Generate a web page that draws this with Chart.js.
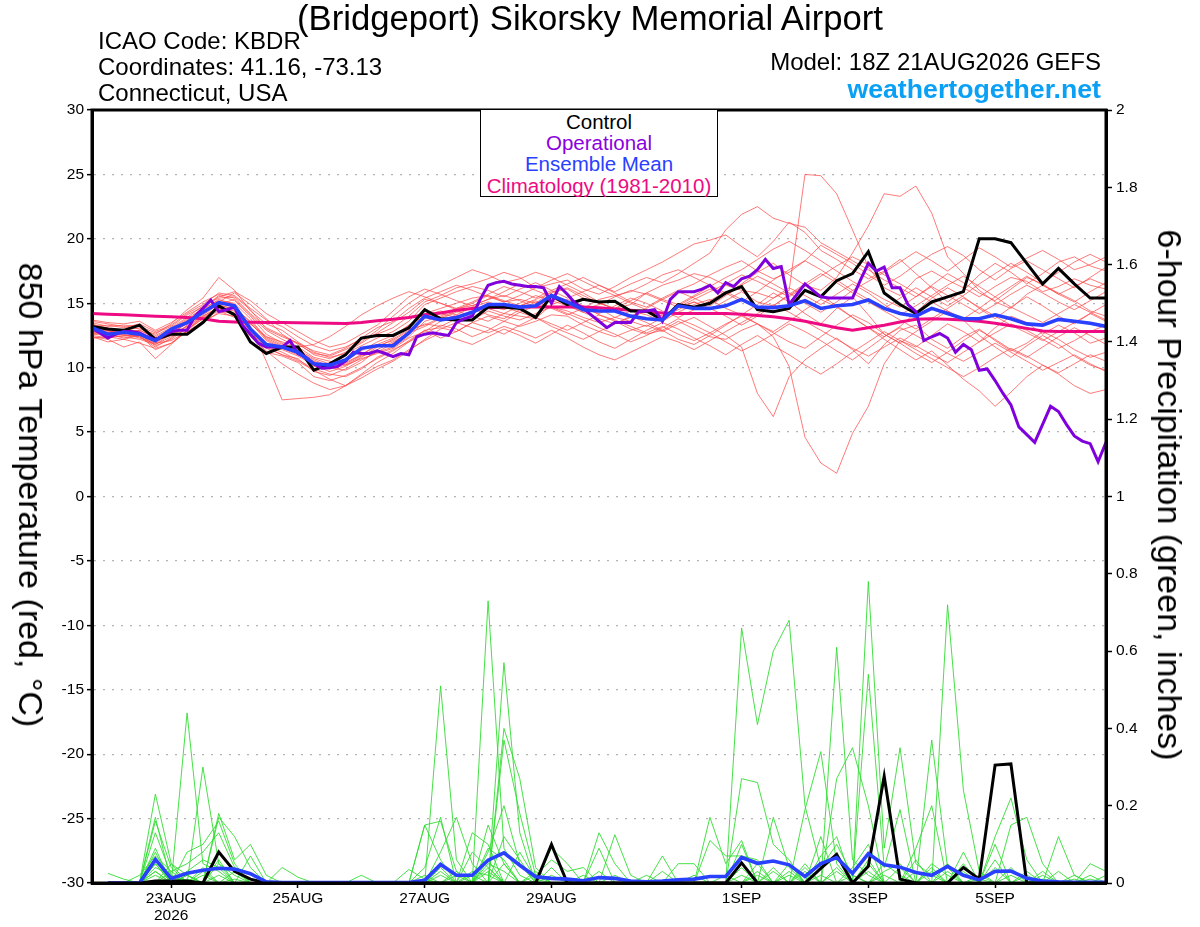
<!DOCTYPE html>
<html>
<head>
<meta charset="utf-8">
<script src="https://cdn.jsdelivr.net/npm/chart.js@4.4.1/dist/chart.umd.min.js"></script>
<style>
html,body{margin:0;padding:0;background:#fff;}
#wrap{position:relative;width:1200px;height:927px;overflow:hidden;font-family:"Liberation Sans",Arial,Helvetica,sans-serif;background:#fff;}
#cw{position:absolute;left:0;top:0;width:1200px;height:927px;}
.t{position:absolute;white-space:nowrap;line-height:1;color:#000;}
#legend{position:absolute;left:480px;top:109px;width:236px;height:86px;border:1.6px solid #000;background:#fff;}
#legend div{position:absolute;left:0;width:100%;text-align:center;font-size:20.5px;line-height:1;white-space:nowrap;}
.rot{position:absolute;white-space:nowrap;line-height:1;transform:translate(-50%,-50%) rotate(90deg);}
</style>
</head>
<body>
<div id="wrap">
  <div id="cw"><canvas id="c"></canvas></div>
  <div class="t" style="left:0;width:1180px;text-align:center;top:1px;font-size:34.7px;">(Bridgeport) Sikorsky Memorial Airport</div>
  <div class="t" style="left:98px;top:29px;font-size:24px;">ICAO Code: KBDR</div>
  <div class="t" style="left:98px;top:55px;font-size:24px;">Coordinates: 41.16, -73.13</div>
  <div class="t" style="left:98px;top:81px;font-size:24px;">Connecticut, USA</div>
  <div class="t" style="right:99px;top:50px;font-size:24px;">Model: 18Z 21AUG2026 GEFS</div>
  <div class="t" style="right:99px;top:76px;font-size:26.7px;font-weight:bold;color:#0aa0f5;">weathertogether.net</div>
  <div id="legend">
    <div style="top:2px;color:#000;">Control</div>
    <div style="top:23px;color:#8a00e0;">Operational</div>
    <div style="top:44px;color:#2a40ff;">Ensemble Mean</div>
    <div style="top:66px;color:#ee0a82;">Climatology (1981-2010)</div>
  </div>
  <div class="rot" style="left:31px;top:495px;font-size:34px;">850 hPa Temperature (red, °C)</div>
  <div class="rot" style="left:1170px;top:495px;font-size:34px;">6-hour Precipitation (green, inches)</div>
</div>
<script>
// ---------- time axis (forecast hours from 18Z 21AUG2026) ----------
const fcstHours = [];
for (let h = 0; h <= 384; h += 6) fcstHours.push(h);
const opHours = [];
for (let h = 0; h <= 384; h += 3) opHours.push(h);
const tickHours  = [30, 78, 126, 174, 246, 294, 342];
const tickLabels = ['23AUG', '25AUG', '27AUG', '29AUG', '1SEP', '3SEP', '5SEP'];
const yearLabel  = '2026';
const tempTicks = { min: -30, max: 30, step: 5 };
const precipTicks = { min: 0, max: 2, step: 0.2 };

// ---------- 850 hPa temperature (°C) ----------
const controlTemp = [13.2,13.0,12.9,13.3,12.2,12.6,12.6,13.5,14.8,14.1, 12.0,11.1,11.6,11.6,9.8,10.3,11.0,12.3,12.5,12.5, 13.1,14.5,13.8,13.7,13.7,14.7,14.7,14.6,13.9,15.6, 14.9,15.3,15.1,15.15,14.4,14.4,13.7,14.9,14.7,15.0, 15.8,16.3,14.5,14.35,14.6,16.0,15.5,16.75,17.3,19.0, 15.8,14.9,14.2,15.1,15.5,15.9,20.0,20.0,19.7,18.1, 16.5,17.7,16.5,15.4,15.4];
const meanTemp = [13.1,12.6,12.75,12.6,12.1,13.0,13.5,14.3,15.05,14.8, 13.0,11.8,11.6,11.2,10.3,10.2,10.6,11.5,11.7,11.7, 12.7,14.0,13.7,13.9,14.3,14.9,14.9,14.7,14.8,15.6, 15.1,14.5,14.4,14.4,14.0,13.8,13.7,14.8,14.6,14.6, 14.8,15.3,14.7,14.66,14.8,15.2,14.6,14.8,14.9,15.25, 14.6,14.2,14.0,14.6,14.2,13.8,13.8,14.1,13.8,13.4, 13.3,13.75,13.6,13.45,13.2];
const climoTemp = [14.2,14.15,14.1,14.05,14.0,13.95,13.9,13.8,13.6,13.55, 13.52,13.5,13.5,13.48,13.47,13.45,13.42,13.5,13.65,13.75, 13.9,14.1,14.25,14.45,14.6,14.65,14.68,14.7,14.7,14.7, 14.7,14.7,14.65,14.55,14.45,14.35,14.25,14.2,14.2,14.2, 14.2,14.15,14.05,13.95,13.8,13.6,13.35,13.1,12.9,13.1, 13.3,13.55,13.75,13.8,13.75,13.7,13.6,13.45,13.25,13.05, 12.85,12.8,12.8,12.8,12.8];
// operational run, 3-hourly
const operationalTemp = [
 13.05,12.7, 12.3,12.6, 12.8,12.8, 12.7,12.4, 12.15,12.5, 12.8,12.9, 12.9,14.0, 14.6,15.25, 14.35,14.5, 14.7,13.3,
 12.6,11.9, 11.6,11.6, 11.6,12.1, 11.1,10.8, 10.3,9.95, 10.0,10.1, 10.5,11.2, 11.1,11.1, 11.3,11.1, 10.85,11.1,
 11.0,12.4, 12.6,12.7, 12.6,12.5, 13.5,13.8, 14.0,15.3, 16.4,16.6, 16.7,16.5, 16.4,16.3, 16.3,16.2, 15.0,16.3,
 15.7,15.0, 14.6,14.1, 13.6,13.1, 13.5,13.5, 13.5,14.35, 14.4,14.5, 13.6,15.3, 15.9,15.9, 15.9,16.1, 16.4,15.8,
 16.6,16.3, 16.9,17.1, 17.6,18.4, 17.7,17.85, 14.9,15.7, 16.5,16.0, 15.5,15.4, 15.4,15.4, 15.4,16.8, 18.1,17.5,
 17.8,16.2, 16.2,14.9, 14.35,12.1, 12.4,12.65, 12.3,11.2, 11.8,11.4, 9.8,9.9, 9.0,8.0, 7.1,5.4, 4.8,4.2,
 5.6,7.0, 6.6,5.6, 4.7,4.3, 4.1,2.7, 4.2];

const tempMember01 = [13.4,13.0,12.8,12.9,12.3,12.8,13.6,14.6,15.6,15.2, 14.0,12.6,11.9,11.3,10.6,10.1,10.4,11.0,11.8,12.3, 13.3,14.2,14.6,15.0,15.4,15.6,15.1,15.3,15.0,15.9, 16.1,15.4,15.0,14.6,14.9,15.8,16.4,16.8,17.3,17.0, 16.4,16.0,15.8,15.4,16.0,25.0,24.9,23.5,20.7,17.8, 16.2,15.6,16.9,17.5,16.8,16.2,15.5,16.3,17.0,16.7, 15.9,16.3,16.9,16.4,16.1];
const tempMember02 = [13.0,12.7,13.0,12.8,12.0,12.6,13.2,14.1,14.9,15.3, 14.1,12.9,12.2,11.6,10.8,10.5,10.2,10.9,11.2,11.6, 12.4,13.6,14.0,14.6,14.8,15.3,15.6,15.2,14.7,15.4, 14.9,14.3,14.6,13.9,13.6,13.2,13.9,14.7,15.1,14.5, 15.2,15.9,15.1,14.8,15.6,16.4,16.0,17.0,18.9,21.0, 23.5,23.3,24.1,22.0,18.6,17.3,16.0,15.1,14.6,15.7, 16.4,15.8,15.2,14.4,14.0];
const tempMember03 = [12.8,12.5,12.4,12.2,11.8,12.4,13.0,13.8,14.6,14.4, 12.8,11.5,11.0,10.7,9.7,9.4,9.9,10.6,11.2,11.9, 12.8,13.4,13.2,13.8,14.3,14.6,14.2,14.0,13.8,14.9, 15.3,14.8,14.1,13.6,13.0,12.6,12.9,13.6,13.0,12.4, 12.2,12.9,13.4,12.4,10.1,4.6,2.6,1.8,4.9,7.0, 10.3,12.1,11.6,12.5,13.4,12.8,12.0,13.1,14.0,13.5, 12.6,13.3,12.7,11.9,12.3];
const tempMember04 = [12.6,12.9,12.5,12.5,11.4,11.9,12.8,13.6,14.2,14.0, 12.5,11.2,10.9,10.4,9.3,9.0,9.4,10.0,10.7,11.3, 12.1,12.9,13.1,12.8,13.5,14.0,13.6,13.2,13.6,14.1, 14.0,13.3,12.8,12.4,12.9,13.3,12.8,13.4,13.9,13.2, 12.5,11.6,8.0,6.2,9.3,10.6,11.5,12.3,11.4,10.3, 11.8,12.9,13.3,12.2,11.5,12.4,13.0,12.1,11.3,11.9, 12.8,12.2,11.4,10.8,11.2];
const tempMember05 = [13.2,13.3,13.1,13.4,12.8,13.3,14.2,14.9,15.8,15.6, 14.6,13.7,13.2,12.4,11.7,11.3,11.6,12.2,12.6,13.1, 14.0,15.1,15.6,16.2,16.5,16.9,17.4,17.0,16.2,16.5, 16.8,16.1,15.7,16.3,17.0,17.6,18.2,18.9,19.6,19.9, 20.3,19.4,18.6,19.8,21.3,20.5,19.1,18.4,17.6,16.9, 17.5,18.4,17.3,16.2,15.1,16.0,17.2,18.1,17.4,16.5, 17.3,18.2,18.6,17.9,17.5];
const tempMember06 = [12.9,12.4,12.6,12.3,11.9,12.7,13.4,14.5,15.3,14.9, 13.2,10.5,7.5,7.6,7.7,7.9,8.6,9.5,10.4,11.1, 12.0,12.6,13.3,13.0,12.4,12.9,13.6,14.3,13.9,13.2, 12.7,12.2,12.8,13.4,14.0,13.5,12.9,12.2,11.8,12.5, 13.3,14.1,14.9,15.8,15.1,14.2,13.4,14.6,15.5,14.1, 12.6,11.9,12.8,13.6,14.4,13.7,12.5,11.6,10.8,11.7, 12.5,11.8,10.9,10.2,9.8];
const tempMember07 = [13.6,13.4,13.2,13.0,12.6,13.4,14.5,15.4,17.0,16.0, 14.4,13.4,12.9,12.0,11.2,10.8,11.1,11.7,12.3,12.8, 13.6,14.9,15.4,15.9,16.3,16.0,15.5,16.1,16.6,16.0, 15.4,15.9,16.4,15.8,15.1,14.7,15.4,16.0,16.5,17.2, 17.8,18.3,17.5,16.9,17.4,18.3,19.5,18.8,18.1,17.2, 16.4,17.1,18.0,18.8,19.4,18.7,17.6,16.8,17.7,18.3, 17.6,16.9,16.2,17.0,17.8];
const tempMember08 = [12.4,12.2,11.6,12.0,10.7,11.8,12.9,14.0,14.7,14.2, 12.9,11.9,11.4,10.9,10.2,9.7,10.1,10.8,11.6,12.2, 13.0,13.3,13.9,14.4,14.0,13.6,14.2,14.8,15.2,14.6, 14.1,14.6,15.3,15.6,15.0,14.5,14.0,14.8,15.5,16.1, 15.7,16.5,17.4,18.1,17.2,16.4,15.6,14.8,13.9,13.1, 12.4,13.2,14.3,15.4,16.2,15.5,14.6,13.8,14.7,15.5, 14.8,14.0,13.4,14.2,14.9];
const tempMember09 = [13.1,12.8,12.9,13.1,12.5,13.1,13.9,14.8,15.4,15.5, 14.5,13.0,12.4,11.9,11.0,10.7,11.2,11.9,12.7,13.5, 14.3,15.3,15.0,14.6,15.1,15.7,16.3,15.9,15.4,16.0, 16.5,17.0,16.4,15.9,16.5,17.0,16.6,17.3,18.1,18.9, 20.7,21.9,22.5,21.6,21.2,20.9,19.7,19.0,18.3,17.6, 16.8,16.2,15.5,16.4,17.3,16.6,15.8,15.2,16.1,17.0, 16.5,15.7,16.3,16.9,16.4];
const tempMember10 = [12.7,12.6,12.3,12.6,11.7,12.2,13.1,13.9,14.5,14.6, 13.6,12.4,11.8,11.1,10.1,9.9,10.2,10.7,11.1,11.5, 12.3,12.8,13.6,14.1,13.7,14.4,14.0,13.7,14.2,14.7, 14.4,13.9,13.5,13.9,14.4,14.1,13.6,14.3,14.9,15.3, 14.6,14.1,13.4,12.8,13.6,14.5,15.3,14.7,13.9,13.1, 12.2,11.4,10.6,11.3,10.2,9.1,8.2,7.0,8.1,9.3, 10.2,9.5,8.6,8.0,8.3];
const tempMember11 = [13.3,13.1,12.7,12.6,12.2,12.9,13.7,14.4,15.1,15.8, 14.9,13.8,12.6,11.8,11.1,10.9,11.4,12.0,12.9,14.0, 15.0,15.8,16.4,17.0,17.6,17.2,16.6,16.9,17.4,17.0, 16.4,15.8,15.1,14.5,14.0,14.6,15.3,15.9,15.4,14.8, 15.6,16.4,17.1,16.5,15.8,15.0,14.3,15.1,16.0,16.7, 17.4,18.2,19.0,18.3,17.5,18.4,19.3,18.6,17.8,18.5, 19.1,18.4,17.6,18.0,18.6];
const tempMember12 = [12.5,12.3,12.5,12.4,11.6,12.3,13.3,14.3,14.9,14.5, 13.0,11.7,11.2,10.6,9.9,9.5,9.3,9.9,10.8,11.4, 12.0,12.9,12.3,12.8,13.5,13.1,12.6,13.3,13.9,13.4, 12.9,13.5,14.1,13.7,13.2,12.7,13.2,12.6,12.1,12.7, 13.4,14.0,13.4,12.7,12.0,11.5,12.4,13.3,14.1,13.5, 12.6,11.9,11.1,10.4,11.2,12.1,12.9,12.2,11.4,10.8, 11.6,12.4,13.1,12.5,11.8];
const tempMember13 = [13.5,13.2,13.3,13.2,12.7,13.2,14.1,14.7,15.5,15.9, 15.2,14.2,13.5,12.8,12.1,11.6,11.9,12.6,13.3,14.4, 15.5,16.1,15.7,15.2,14.8,15.3,15.9,16.5,16.0,15.5, 15.0,14.5,14.9,15.5,16.0,15.7,15.2,14.7,15.3,15.9, 16.5,17.2,16.7,16.1,15.5,16.3,17.1,17.9,18.6,18.0, 17.2,16.5,15.8,15.1,14.4,13.8,14.6,15.5,16.3,17.1, 16.4,15.7,15.1,15.9,16.6];
const tempMember14 = [12.6,12.5,12.8,12.7,12.1,12.5,13.2,14.0,14.6,14.1, 12.7,11.6,11.0,10.5,9.8,9.1,8.6,9.2,9.9,10.5, 11.3,12.2,13.0,13.5,13.1,12.7,13.2,12.8,12.3,12.9, 12.3,11.6,11.0,10.6,11.2,11.8,12.4,12.0,11.4,12.1, 12.8,13.5,14.2,14.9,14.3,13.6,12.9,12.2,11.5,10.9, 11.6,12.3,11.7,11.0,10.4,11.2,12.0,12.7,13.4,12.9, 12.2,11.5,12.1,12.8,13.3];
const tempMember15 = [13.0,12.9,12.6,12.9,12.4,13.0,13.8,14.6,15.2,15.0, 13.8,12.2,11.6,11.4,10.7,10.3,10.5,11.3,12.0,12.5, 13.3,14.0,14.4,14.1,14.7,15.1,14.7,14.3,14.8,15.5, 15.1,14.6,14.2,14.8,15.4,15.0,14.4,13.9,14.5,15.2, 15.9,15.3,14.6,15.4,16.2,15.6,14.9,15.7,16.5,15.8, 14.9,14.1,14.8,15.6,16.4,17.1,16.3,15.5,14.7,14.1, 13.5,14.2,14.9,14.3,13.7];
const tempMember16 = [12.3,12.4,12.2,12.5,11.9,12.1,12.8,13.5,14.3,14.3, 13.4,12.3,11.7,11.2,10.5,10.0,9.8,10.4,11.4,12.0, 12.7,13.2,13.8,14.3,14.6,14.1,13.8,14.5,15.1,14.7, 14.2,13.7,13.1,12.6,12.0,12.5,13.1,13.8,13.3,12.7, 12.0,11.3,11.9,12.6,13.4,12.8,12.1,11.3,10.6,11.5, 12.4,13.1,12.5,11.8,11.1,10.5,11.2,11.9,11.2,10.5, 9.8,10.4,11.0,10.3,9.7];
const tempMember17 = [13.7,13.5,13.4,13.6,12.9,13.5,14.3,15.1,15.7,15.4, 14.2,13.1,12.5,11.9,11.3,11.0,11.5,12.3,13.1,13.6, 14.6,15.4,15.9,16.4,16.0,15.5,15.1,15.6,16.2,16.8, 17.3,16.7,16.1,15.6,15.9,16.5,17.2,17.6,17.0,16.4, 15.8,15.1,15.9,16.8,17.6,18.3,17.6,16.8,16.0,15.3, 14.6,15.4,16.2,15.5,14.8,15.6,16.5,17.3,18.1,17.4, 16.6,17.4,18.2,18.8,18.2];
const tempMember18 = [12.9,12.7,12.9,12.6,12.3,12.7,13.6,14.4,14.8,14.6, 13.4,12.4,12.0,11.6,11.8,12.4,13.2,14.1,14.8,15.4, 15.9,15.5,15.0,14.5,15.0,15.6,15.2,14.8,15.3,15.8, 16.2,15.6,15.0,14.6,15.2,15.8,15.3,14.9,15.6,16.3, 17.0,17.6,18.4,19.2,19.8,19.1,18.3,17.5,16.7,16.0, 15.3,14.7,15.5,16.3,15.6,14.9,14.2,14.9,15.7,16.4, 15.8,15.1,14.5,15.2,15.9];
const tempMember19 = [12.4,12.0,12.2,11.9,11.5,11.9,12.9,13.8,14.4,13.9, 12.4,11.3,10.3,9.5,8.8,8.3,8.6,9.4,10.1,10.6, 11.4,12.1,12.7,12.2,11.8,12.4,13.0,12.5,11.9,12.6, 13.3,12.7,12.0,11.5,12.2,12.9,13.5,13.0,12.3,11.7, 11.0,11.8,12.5,11.7,11.0,10.2,9.5,10.3,11.2,12.0, 12.8,12.1,11.4,10.7,10.0,9.3,10.0,10.8,11.5,10.9, 10.2,9.6,10.3,11.0,10.5];
const tempMember20 = [13.2,12.9,12.7,12.4,11.8,12.6,13.5,14.2,15.0,14.7, 13.5,12.1,11.5,11.0,10.4,10.0,10.3,11.0,11.7,12.1, 12.9,13.8,14.2,13.9,14.4,14.8,14.5,15.0,15.6,15.2, 14.8,14.3,13.8,13.4,13.9,14.4,14.0,14.5,15.1,14.6, 14.0,13.3,14.0,14.8,15.7,16.5,17.3,16.6,15.8,15.1, 14.4,13.7,13.0,13.8,14.6,15.4,14.7,14.0,13.3,12.7, 12.1,12.8,13.5,14.2,13.6];
const tempMembers = [tempMember01,tempMember02,tempMember03,tempMember04,tempMember05,tempMember06,tempMember07,tempMember08,tempMember09,tempMember10,tempMember11,tempMember12,tempMember13,tempMember14,tempMember15,tempMember16,tempMember17,tempMember18,tempMember19,tempMember20];

// ---------- 6-hour precipitation (inches) ----------
const controlPrecip = [null,0,0,0,0.005,0.005,0.005,0,0.08,0.03, 0.01,0,0,0,0,0,0,0,0,0, 0,0,0,0,0,0,0,0,0,0.10, 0,0,0,0,0,0,0,0,0,0, 0,0.052,0,0,0,0,0.038,0.074,0,0.043, 0.276,0.01,0,0,0,0.04,0.01,0.305,0.308,0, 0,0,0,0,0];
const meanPrecip = [null,0,0,0,0.061,0.012,0.025,0.033,0.038,0.036, 0.024,0.003,0.001,0.001,0.001,0.001,0.001,0.001,0.001,0.001, 0.001,0.007,0.048,0.02,0.02,0.059,0.078,0.046,0.016,0.012, 0.01,0.006,0.014,0.012,0.005,0.003,0.005,0.008,0.01,0.017, 0.017,0.066,0.051,0.057,0.047,0.017,0.05,0.066,0.025,0.076, 0.047,0.041,0.027,0.02,0.043,0.02,0.008,0.03,0.031,0.012, 0.005,0.003,0.002,0.002,0.002];
const precipMember01 = [null,0,0,0,0.23,0.05,0.02,0,0,0, 0,0,0,0,0,0,0,0,0,0, 0,0,0.51,0.06,0,0.08,0.20,0.05,0,0, 0,0,0,0,0,0,0,0,0,0, 0,0.66,0.41,0.60,0.68,0.20,0.04,0.10,0.02,0, 0,0,0,0.05,0.02,0,0,0,0,0, 0,0,0,0,0];
const precipMember02 = [null,0,0,0,0.17,0,0.44,0.05,0.03,0, 0,0,0,0,0,0,0,0,0,0, 0,0,0,0,0,0.73,0.09,0.02,0,0, 0,0,0,0,0,0,0,0,0,0, 0,0,0,0,0,0,0,0,0,0.78, 0.09,0.35,0.05,0.02,0,0,0,0,0,0, 0,0,0,0,0];
const precipMember03 = [null,0,0,0,0.16,0.04,0,0.30,0.05,0.02, 0,0,0,0,0,0,0,0,0,0, 0,0,0,0,0,0,0.57,0.13,0,0, 0,0,0,0,0,0,0,0,0,0, 0,0,0,0,0,0,0,0.61,0.06,0.02, 0,0,0,0,0.72,0.24,0.03,0,0,0, 0,0,0,0,0];
const precipMember04 = [null,0,0,0,0.09,0,0,0,0.17,0.12, 0.04,0,0,0,0,0,0,0,0,0, 0,0.15,0.16,0.03,0,0,0.40,0.27,0.04,0, 0,0,0,0,0,0,0,0,0,0, 0,0,0,0,0,0,0,0,0,0.54, 0.04,0.19,0,0.37,0.04,0,0,0,0,0, 0,0,0,0,0];
const precipMember05 = [null,0,0,0,0.13,0.02,0,0,0.18,0.06, 0.10,0.02,0,0,0,0,0,0,0,0, 0,0,0.08,0.17,0.05,0,0.37,0.18,0.02,0, 0,0,0,0,0,0,0,0,0,0, 0,0.27,0.26,0.10,0.06,0,0,0.27,0.35,0.20, 0,0,0,0,0,0,0,0,0,0, 0,0,0,0,0];
const precipMember06 = [null,0,0,0,0.08,0,0.08,0.10,0.16,0.05, 0,0,0,0,0,0,0,0,0,0, 0,0.15,0.06,0,0,0.15,0.05,0,0,0, 0,0,0,0,0,0,0,0,0,0.17, 0.05,0.11,0,0,0,0.19,0.34,0.05,0,0, 0,0,0,0,0,0,0,0.12,0.22,0.06, 0,0,0,0,0];
const precipMember07 = [null,0,0,0.02,0.07,0.03,0.05,0.08,0.13,0.04, 0,0,0.04,0.015,0,0,0,0,0,0, 0,0,0,0,0.13,0.10,0,0,0,0, 0,0,0.13,0.05,0,0,0.07,0,0,0, 0,0,0,0.17,0.04,0,0,0,0,0, 0,0,0,0,0,0.08,0,0,0.15,0.17, 0.05,0,0,0,0];
const precipMember08 = [null,0.025,0.01,0,0.05,0,0.03,0.06,0.04,0, 0,0,0,0,0,0,0,0,0,0, 0,0.04,0.17,0,0,0.06,0,0,0,0, 0,0,0,0.125,0.02,0,0,0,0,0.11, 0.07,0.07,0.06,0,0,0,0,0,0,0, 0,0,0.09,0.20,0,0,0,0,0,0, 0,0.12,0.02,0,0];
const precipMember09 = [null,0,0,0,0.04,0.02,0,0,0,0.03, 0,0,0,0,0,0,0,0,0,0, 0.035,0.01,0,0,0.08,0.04,0,0,0,0.09, 0.05,0,0.09,0,0,0,0,0.05,0.05,0, 0,0.10,0,0,0,0,0.12,0,0,0.03, 0,0,0,0,0,0,0,0.10,0,0, 0,0,0,0.05,0.03];
const precipMember10 = [null,0,0,0,0.03,0,0,0.02,0,0, 0.07,0,0,0,0,0,0,0.02,0,0, 0,0,0,0.03,0,0,0,0,0.02,0.06, 0.03,0.04,0,0,0,0.02,0,0,0,0, 0,0,0,0,0,0.04,0,0,0,0, 0.03,0.05,0,0,0,0,0.02,0,0,0.03, 0,0,0,0,0];
const precipMember11 = [null,0,0,0,0,0.03,0,0,0.02,0, 0,0,0,0,0,0,0,0,0,0, 0,0,0.04,0,0,0,0.12,0.06,0,0, 0,0,0,0,0,0,0,0,0,0, 0,0,0.03,0,0.02,0,0,0,0.04,0.10, 0,0,0.03,0,0,0.05,0,0,0,0, 0.02,0,0,0,0];
const precipMember12 = [null,0,0,0,0.02,0,0.01,0,0,0, 0,0,0,0,0,0,0,0,0,0, 0,0,0.03,0,0,0.05,0.03,0,0,0.04, 0,0,0,0,0,0,0,0,0,0, 0,0.05,0,0.03,0,0,0,0.04,0,0.06, 0,0,0,0,0.03,0,0,0,0.04,0, 0,0,0.01,0,0];
const precipMember13 = [null,0,0,0,0,0.05,0,0,0,0.01, 0,0,0,0,0,0,0,0,0,0, 0,0,0,0,0,0.09,0.06,0,0,0, 0,0.02,0,0,0,0,0,0,0,0, 0,0,0.05,0,0,0.03,0,0,0,0, 0.05,0.02,0,0,0,0,0,0.06,0,0, 0,0.03,0,0,0];
const precipMember14 = [null,0,0,0,0.06,0,0,0,0.05,0, 0,0,0,0,0,0,0,0,0,0, 0,0,0,0.02,0,0,0,0.08,0.01,0, 0,0,0,0,0,0,0.03,0,0,0, 0,0.02,0,0,0,0,0.07,0.12,0,0, 0,0,0,0.04,0,0,0,0,0,0.02, 0,0,0,0.01,0];
const precipMember15 = [null,0,0,0,0,0,0.02,0,0,0, 0,0,0,0,0,0,0,0,0,0, 0,0,0,0,0.03,0.02,0,0,0,0, 0,0,0.03,0,0,0,0,0,0,0, 0.02,0,0,0,0.05,0,0,0,0.02,0, 0,0,0.06,0,0,0,0.01,0,0,0, 0.03,0,0,0,0];
const precipMember16 = [null,0,0,0,0.03,0,0,0.04,0,0, 0,0,0,0,0,0,0,0,0,0, 0,0,0,0,0,0.03,0,0,0.03,0, 0,0,0,0,0,0,0,0,0,0, 0,0,0,0,0.03,0,0,0,0,0.05, 0,0,0,0,0,0,0,0.04,0,0, 0,0,0,0,0.02];
const precipMember17 = [null,0,0,0,0,0.01,0,0,0,0, 0,0,0,0,0,0,0,0,0,0, 0,0,0.02,0,0,0,0.05,0,0,0, 0,0,0,0,0,0,0,0,0,0, 0,0.04,0,0,0,0,0,0.03,0,0, 0,0,0,0.03,0,0,0,0,0.02,0, 0,0,0,0,0];
const precipMember18 = [null,0,0,0,0.05,0,0,0,0.06,0, 0,0,0,0,0,0,0,0,0,0, 0,0,0,0,0.02,0,0,0,0,0, 0,0,0,0.02,0,0,0,0,0,0, 0,0,0.02,0,0,0,0.02,0,0,0, 0,0.04,0,0,0,0,0,0,0,0, 0,0,0.02,0,0];
const precipMember19 = [null,0,0,0,0,0,0.02,0,0,0, 0,0,0,0,0,0,0,0,0,0, 0,0.02,0,0,0,0,0,0,0,0.02, 0,0,0,0,0,0,0,0,0,0, 0,0,0,0.04,0,0,0,0,0,0, 0.02,0,0,0,0,0.03,0,0,0,0, 0.01,0,0,0,0];
const precipMember20 = [null,0,0,0,0,0,0,0.03,0,0, 0,0,0,0,0,0,0,0,0,0, 0,0,0,0,0,0.04,0,0,0,0, 0,0,0,0,0,0,0,0,0.02,0, 0,0,0,0,0,0.05,0,0,0,0, 0,0,0,0,0.05,0,0,0,0,0, 0,0,0,0.02,0];
const precipMembers = [precipMember01,precipMember02,precipMember03,precipMember04,precipMember05,precipMember06,precipMember07,precipMember08,precipMember09,precipMember10,precipMember11,precipMember12,precipMember13,precipMember14,precipMember15,precipMember16,precipMember17,precipMember18,precipMember19,precipMember20];

// ---------- chart ----------
const FONT = '"Liberation Sans", Arial, Helvetica, sans-serif';
Chart.defaults.font.family = FONT;
Chart.defaults.color = '#000';

function pts(hours, vals) { return vals.map((v, i) => ({ x: hours[i], y: v })); }

const datasets = [];
datasets.push({ data: pts(fcstHours, meanTemp), borderColor: '#2a40ff', borderWidth: 3.6, yAxisID: 'y', order: 0 });
datasets.push({ data: pts(fcstHours, meanPrecip), borderColor: '#2a40ff', borderWidth: 3.6, yAxisID: 'y1', order: 1 });
datasets.push({ data: pts(opHours, operationalTemp), borderColor: '#8000dd', borderWidth: 3, yAxisID: 'y', order: 2 });
datasets.push({ data: pts(fcstHours, controlTemp), borderColor: '#000000', borderWidth: 3, yAxisID: 'y', order: 3 });
datasets.push({ data: pts(fcstHours, controlPrecip), borderColor: '#000000', borderWidth: 3, yAxisID: 'y1', order: 4 });
datasets.push({ data: pts(fcstHours, climoTemp), borderColor: '#ee0a82', borderWidth: 3, yAxisID: 'y', order: 5 });
precipMembers.forEach(m => datasets.push({ data: pts(fcstHours, m), borderColor: 'rgb(50,220,50)', borderWidth: 0.9, yAxisID: 'y1', order: 6 }));
tempMembers.forEach(m => datasets.push({ data: pts(fcstHours, m), borderColor: 'rgba(255,70,70,0.8)', borderWidth: 0.9, yAxisID: 'y', order: 7 }));

const framePlugin = {
  id: 'frame',
  afterDatasetsDraw(chart) {
    const { ctx, chartArea: a } = chart;
    ctx.save();
    ctx.strokeStyle = '#000';
    ctx.lineWidth = 3;
    ctx.strokeRect(a.left, a.top, a.right - a.left, a.bottom - a.top);
    ctx.restore();
  }
};

new Chart(document.getElementById('c'), {
  type: 'line',
  data: { datasets },
  plugins: [framePlugin],
  options: {
    responsive: true,
    maintainAspectRatio: false,
    animation: false,
    events: [],
    layout: { padding: { top: 110, left: 0, right: 0, bottom: 0 } },
    elements: { point: { radius: 0 }, line: { tension: 0, fill: false, borderJoinStyle: 'miter' } },
    plugins: { legend: { display: false }, tooltip: { enabled: false }, title: { display: false } },
    scales: {
      x: {
        type: 'linear', min: 0, max: 384,
        afterBuildTicks(s) { s.ticks = tickHours.map(v => ({ value: v })); },
        afterFit(s) { s.height = 44; },
        ticks: {
          autoSkip: false, maxRotation: 0, padding: 2,
          font: { size: 15.5, lineHeight: 1.1 },
          callback(v) {
            const k = tickHours.indexOf(v);
            if (k < 0) return '';
            return k === 0 ? [tickLabels[k], yearLabel] : tickLabels[k];
          }
        },
        grid: { display: true, drawOnChartArea: false, drawTicks: true, tickLength: 5, tickColor: '#000', tickWidth: 1.5 },
        border: { display: true, color: '#000', width: 3 }
      },
      y: {
        type: 'linear', position: 'left', min: tempTicks.min, max: tempTicks.max,
        afterFit(s) { s.width = 92; },
        ticks: { stepSize: tempTicks.step, padding: 3, font: { size: 15.5 } },
        grid: { color: '#b4b4b4', lineWidth: 1.3, drawTicks: true, tickLength: 5, tickColor: '#000', tickWidth: 1.5, tickBorderDash: [] },
        border: { display: true, color: '#000', width: 3, dash: [2, 7] }
      },
      y1: {
        type: 'linear', position: 'right', min: precipTicks.min, max: precipTicks.max,
        afterFit(s) { s.width = 94; },
        ticks: { stepSize: precipTicks.step, padding: 4, font: { size: 15.5 },
                 callback(v) { return Number(v.toFixed(1)).toString(); } },
        grid: { drawOnChartArea: false, drawTicks: true, tickLength: 6, tickColor: '#000', tickWidth: 1.5 },
        border: { display: true, color: '#000', width: 3 }
      }
    }
  }
});
</script>
</body>
</html>
